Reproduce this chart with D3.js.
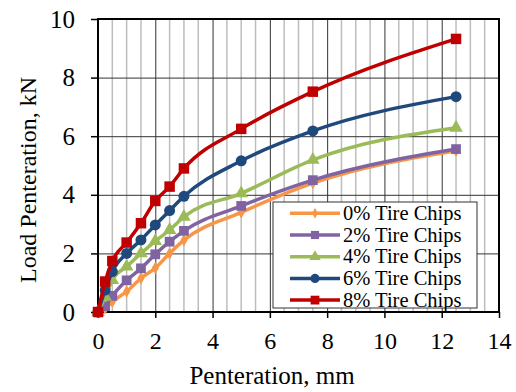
<!DOCTYPE html>
<html>
<head>
<meta charset="utf-8">
<script src="https://cdn.jsdelivr.net/npm/d3@7"></script>
<style>
  body { margin: 0; background: #fff; }
  svg text { font-family: "Liberation Serif", "DejaVu Serif", serif; }
</style>
</head>
<body>
<div id="chart"></div>
<script>
// penetration (mm)
var pen = [0, 0.25, 0.5, 1, 1.5, 2, 2.5, 3, 5, 7.5, 12.5];

var names = ["0% Tire Chips", "2% Tire Chips", "4% Tire Chips", "6% Tire Chips", "8% Tire Chips"];
var load0 = [0, 0.12, 0.35, 0.7, 1.15, 1.5, 2.0, 2.45, 3.4, 4.4, 5.5];
var load2 = [0, 0.2, 0.55, 1.08, 1.49, 1.97, 2.4, 2.77, 3.62, 4.5, 5.56];
var load4 = [0, 0.52, 1.09, 1.55, 2.0, 2.42, 2.8, 3.25, 4.05, 5.19, 6.29];
var load6 = [0, 0.75, 1.38, 2.0, 2.46, 2.97, 3.46, 3.95, 5.16, 6.18, 7.35];
var load8 = [0, 1.04, 1.74, 2.37, 3.03, 3.79, 4.28, 4.9, 6.25, 7.52, 9.32];

var xTicks = [0, 2, 4, 6, 8, 10, 12, 14];
var yTicks = [0, 2, 4, 6, 8, 10];

var colors = ["#F79646", "#8064A2", "#9BBB59", "#1F497D", "#C00000"];
var shapes = [d3.symbolDiamond, d3.symbolSquare, d3.symbolTriangle, d3.symbolCircle, d3.symbolSquare];
var sizes = [45, 95, 80, 95, 110];

var w = 516, h = 392;
var pl = 98, pr = 499, pt = 19, pb = 312;

var svg = d3.select("#chart").append("svg")
    .attr("width", w)
    .attr("height", h);

var x = d3.scaleLinear().domain([0, 14]).range([pl, pr]);
var y = d3.scaleLinear().domain([0, 10]).range([pb, pt]);

// minor vertical gridlines
var minor = d3.range(0, 14.01, 0.5).filter(function (d) { return d % 2 != 0; });
svg.append("g").selectAll("line")
    .data(minor)
    .enter().append("line")
    .attr("x1", function (d) { return x(d); })
    .attr("x2", function (d) { return x(d); })
    .attr("y1", pt)
    .attr("y2", pb)
    .attr("stroke", "#bdbdbd")
    .attr("stroke-width", 1.5);

// major grid
svg.append("g")
    .attr("transform", "translate(0," + pb + ")")
    .call(d3.axisBottom(x).tickValues(xTicks).tickSize(-(pb - pt)).tickFormat(""))
    .call(function (g) { g.select(".domain").remove(); })
    .selectAll("line").attr("stroke", "#333").attr("stroke-width", 1);

svg.append("g")
    .attr("transform", "translate(" + pl + ",0)")
    .call(d3.axisLeft(y).tickValues(yTicks).tickSize(-(pr - pl)).tickFormat(""))
    .call(function (g) { g.select(".domain").remove(); })
    .selectAll("line").attr("stroke", "#333").attr("stroke-width", 1);

// axes
var xaxis = svg.append("g")
    .attr("transform", "translate(0," + pb + ")")
    .call(d3.axisBottom(x).tickValues(xTicks).tickSize(6).tickPadding(14).tickSizeOuter(0));
xaxis.select(".domain").remove();
xaxis.selectAll("line").attr("stroke", "#000").attr("stroke-width", 1.5);
xaxis.selectAll("text").style("font-size", "24px").attr("fill", "#000");

var yaxis = svg.append("g")
    .attr("transform", "translate(" + pl + ",0)")
    .call(d3.axisLeft(y).tickValues(yTicks).tickSize(7).tickPadding(16).tickSizeOuter(0));
yaxis.select(".domain").remove();
yaxis.selectAll("line").attr("stroke", "#000").attr("stroke-width", 1.5);
yaxis.selectAll("text").style("font-size", "25px").attr("fill", "#000");

// plot border
svg.append("rect")
    .attr("x", pl).attr("y", pt)
    .attr("width", pr - pl).attr("height", pb - pt)
    .attr("fill", "none").attr("stroke", "#000").attr("stroke-width", 2);

// series
var series = [load0, load2, load4, load6, load8];
var line = d3.line()
    .curve(d3.curveMonotoneX)
    .x(function (d, i) { return x(pen[i]); })
    .y(function (d) { return y(d); });

series.forEach(function (s, k) {
    svg.append("path")
        .datum(s)
        .attr("d", line)
        .attr("fill", "none")
        .attr("stroke", colors[k])
        .attr("stroke-width", 3.5);
    svg.append("g").selectAll("path")
        .data(s)
        .enter().append("path")
        .attr("d", d3.symbol().type(shapes[k]).size(sizes[k]))
        .attr("transform", function (d, i) { return "translate(" + x(pen[i]) + "," + y(d) + ")"; })
        .attr("fill", colors[k]);
});

// legend
var lg = svg.append("g").attr("transform", "translate(273,202)");
lg.append("rect")
    .attr("width", 204).attr("height", 106)
    .attr("fill", "#fff").attr("stroke", "#333").attr("stroke-width", 1);
names.forEach(function (n, k) {
    var yy = 11.3 + k * 21.7;
    lg.append("line")
        .attr("x1", 17).attr("x2", 67).attr("y1", yy).attr("y2", yy)
        .attr("stroke", colors[k]).attr("stroke-width", 3.5);
    lg.append("path")
        .attr("d", d3.symbol().type(shapes[k]).size(sizes[k] * 0.7))
        .attr("transform", "translate(42," + yy + ")")
        .attr("fill", colors[k]);
    lg.append("text")
        .attr("x", 70).attr("y", yy + 6.5)
        .style("font-size", "20.5px")
        .text(n);
});

// axis titles
svg.append("text")
    .attr("x", 272).attr("y", 384)
    .attr("text-anchor", "middle")
    .style("font-size", "25px")
    .text("Penteration, mm");

svg.append("text")
    .attr("transform", "translate(36,180) rotate(-90)")
    .attr("text-anchor", "middle")
    .style("font-size", "24px")
    .text("Load Penteration, kN");
</script>
</body>
</html>
